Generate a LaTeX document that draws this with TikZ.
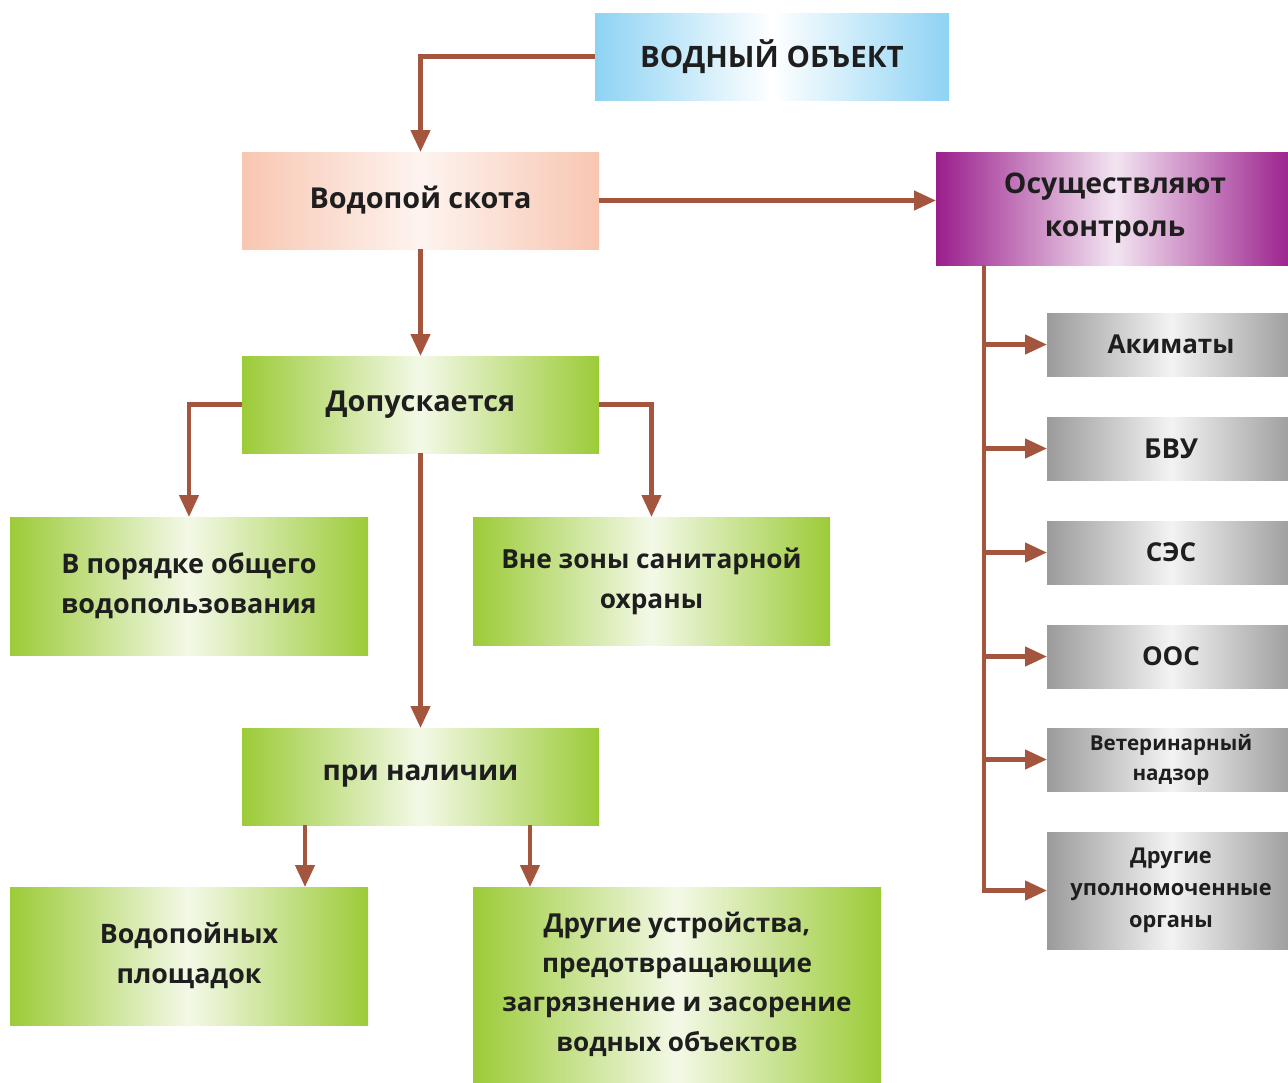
\documentclass[tikz,border=0pt]{standalone}
\usepackage{fontspec}
\setmainfont{Open Sans}
\usetikzlibrary{arrows.meta,calc}
\definecolor{arrc}{HTML}{A3553D}
\definecolor{txtc}{HTML}{1E1E1E}
\definecolor{bluec}{HTML}{8ED3F4}
\definecolor{pinkc}{HTML}{F8C6B1}
\definecolor{purpc}{HTML}{9A1E8C}
\definecolor{greenc}{HTML}{9CCB38}
\definecolor{grayc}{HTML}{9B9B9B}
\newcommand{\fs}[2]{\fontsize{#1}{#2}\selectfont\bfseries}
\tikzset{
  box/.style={inner sep=0pt, outer sep=0pt, align=center, text=txtc,
    font=\fs{28}{40}},
  bluebox/.style={box, left color=bluec, right color=bluec, middle color=white},
  pinkbox/.style={box, left color=pinkc, right color=pinkc, middle color=pinkc!20},
  purpbox/.style={box, left color=purpc, right color=purpc, middle color=purpc!12},
  greenbox/.style={box, left color=greenc, right color=greenc, middle color=greenc!12},
  graybox/.style={box, left color=grayc, right color=grayc, middle color=grayc!12,
    font=\fs{26}{32}},
  arr/.style={draw=arrc, line width=4.5pt, -{Triangle[length=22pt,width=19pt]}},
  ln/.style={draw=arrc, line width=4.5pt}
}
\begin{document}
\begin{tikzpicture}[x=1pt,y=-1pt]
\useasboundingbox (0,0) rectangle (1288,1082);
% top row
\node[bluebox, minimum width=354pt, minimum height=87pt, font=\fs{29.5}{40}] (obj) at (772,56.5) {ВОДНЫЙ ОБЪЕКТ};
\node[pinkbox, minimum width=357pt, minimum height=97pt, font=\fs{28.8}{40}] (vod) at (420.5,200.5) {Водопой скота};
\node[purpbox, minimum width=358pt, minimum height=113pt, font=\fs{28.4}{43}] (kon) at (1115,208.5) {Осуществляют\\контроль};
% left tree
\node[greenbox, minimum width=357pt, minimum height=97pt, font=\fs{28.8}{40}] (dop) at (420.5,404.5) {Допускается};
\node[greenbox, minimum width=358pt, minimum height=138pt, font=\fs{27}{40}] (vpor) at (189,586) {В порядке общего\\водопользования};
\node[greenbox, minimum width=357pt, minimum height=128pt, font=\fs{26.3}{40}] (vne) at (651.5,581) {Вне зоны санитарной\\охраны};
\node[greenbox, minimum width=357pt, minimum height=97pt] (pri) at (420.5,776.5) {при наличии};
\node[greenbox, minimum width=358pt, minimum height=138pt, font=\fs{26.8}{40}] (vodpl) at (189,956) {Водопойных\\площадок};
\node[greenbox, minimum width=408pt, minimum height=195pt, font=\fs{26.1}{39.5}] (dru) at (677,984.5) {Другие устройства,\\предотвращающие\\загрязнение и засорение\\водных объектов};
% right column
\node[graybox, minimum width=248pt, minimum height=63pt] (ak) at (1171,344.5) {Акиматы};
\node[graybox, minimum width=248pt, minimum height=63pt, font=\fs{27.5}{32}] (bvu) at (1171,448.5) {БВУ};
\node[graybox, minimum width=248pt, minimum height=63pt] (ses) at (1171,552.5) {СЭС};
\node[graybox, minimum width=248pt, minimum height=63pt] (oos) at (1171,656.5) {ООС};
\node[graybox, minimum width=248pt, minimum height=63pt, font=\fs{20.6}{30}] (vet) at (1171,759.5) {Ветеринарный\\надзор};
\node[graybox, minimum width=248pt, minimum height=117pt, font=\fs{21.8}{32}] (org) at (1171,890.5) {Другие\\уполномоченные\\органы};
% connectors
\draw[arr] (obj.west) -| (vod.north);
\draw[arr] (vod.east) -- (vod.east -| kon.west);
\draw[arr] (vod.south) -- (dop.north);
\draw[arr] (dop.west) -| (vpor.north);
\draw[arr] (dop.east) -| (vne.north);
\draw[arr] (dop.south) -- (pri.north);
\coordinate (p1) at ([xshift=63pt]pri.south west);
\coordinate (p2) at ([xshift=-69pt]pri.south east);
\draw[arr] (p1) -- (p1 |- vodpl.north);
\draw[arr] (p2) -- (p2 |- dru.north);
\coordinate (t) at ([xshift=48pt]kon.south west);
\draw[ln] (t) -- (t |- org.west);
\draw[arr] ([xshift=-2.25pt]t |- org.west) -- (org.west);
\draw[arr] (t |- ak.west) -- (ak.west);
\draw[arr] (t |- bvu.west) -- (bvu.west);
\draw[arr] (t |- ses.west) -- (ses.west);
\draw[arr] (t |- oos.west) -- (oos.west);
\draw[arr] (t |- vet.west) -- (vet.west);
\end{tikzpicture}
\end{document}
